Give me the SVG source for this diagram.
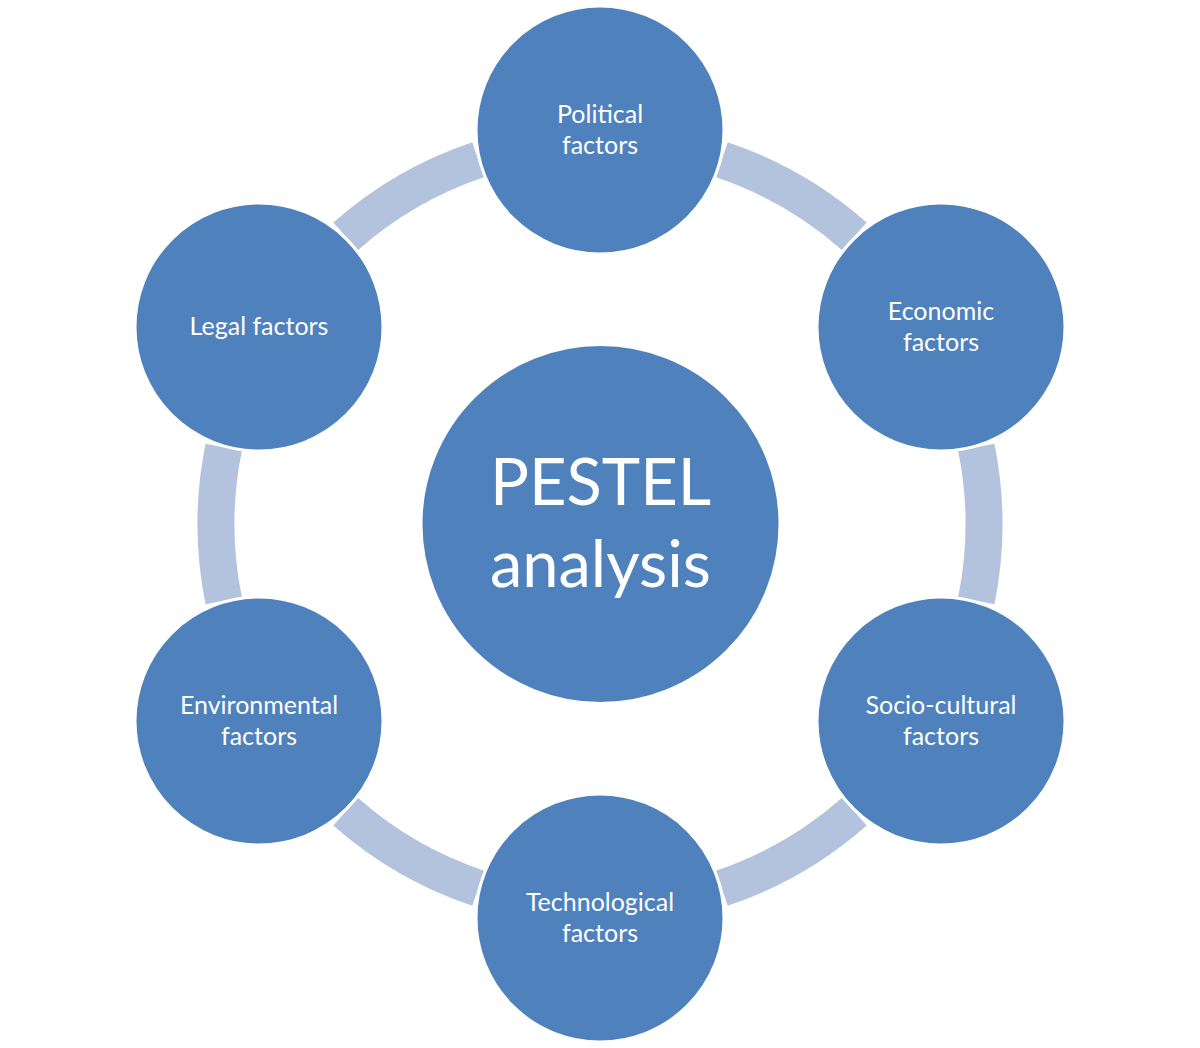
<svg xmlns="http://www.w3.org/2000/svg" width="1200" height="1048" viewBox="0 0 1200 1048">
<style>
.ring{fill:none;stroke:#b3c3de;stroke-width:37;stroke-linecap:butt}
.node{fill:#4f81bd;stroke:#ffffff;stroke-width:3}
.lbl{font-family:Lato,"Liberation Sans",sans-serif;font-size:25px;fill:#ffffff;text-anchor:middle}
.big{font-family:Lato,"Liberation Sans",sans-serif;font-size:65px;fill:#ffffff;text-anchor:middle}
</style>
<rect width="1200" height="1048" fill="#ffffff"/>
<g id="connectors">
<path class="ring" d="M721.8 159.8 A384 384 0 0 1 854.4 236.4"/>
<path class="ring" d="M976.3 447.4 A384 384 0 0 1 976.3 600.6"/>
<path class="ring" d="M854.4 811.6 A384 384 0 0 1 721.8 888.2"/>
<path class="ring" d="M478.2 888.2 A384 384 0 0 1 345.6 811.6"/>
<path class="ring" d="M223.7 600.6 A384 384 0 0 1 223.7 447.4"/>
<path class="ring" d="M345.6 236.4 A384 384 0 0 1 478.2 159.8"/>
</g>
<g id="center">
<circle class="node" cx="600.5" cy="524" r="179.5"/>
<text class="big" x="600.5" y="505">PESTEL</text>
<text class="big" x="600.5" y="587">analysis</text>
</g>
<g id="political">
<circle class="node" cx="600" cy="130" r="124"/>
<text class="lbl" x="600" y="123">Political</text>
<text class="lbl" x="600" y="154">factors</text>
</g>
<g id="economic">
<circle class="node" cx="941" cy="327" r="124"/>
<text class="lbl" x="941" y="320">Economic</text>
<text class="lbl" x="941" y="351">factors</text>
</g>
<g id="socio-cultural">
<circle class="node" cx="941" cy="721" r="124"/>
<text class="lbl" x="941" y="714">Socio-cultural</text>
<text class="lbl" x="941" y="745">factors</text>
</g>
<g id="technological">
<circle class="node" cx="600" cy="918" r="124"/>
<text class="lbl" x="600" y="911">Technological</text>
<text class="lbl" x="600" y="942">factors</text>
</g>
<g id="environmental">
<circle class="node" cx="259" cy="721" r="124"/>
<text class="lbl" x="259" y="714">Environmental</text>
<text class="lbl" x="259" y="745">factors</text>
</g>
<g id="legal">
<circle class="node" cx="259" cy="327" r="124"/>
<text class="lbl" x="259" y="335">Legal factors</text>
</g>
</svg>
